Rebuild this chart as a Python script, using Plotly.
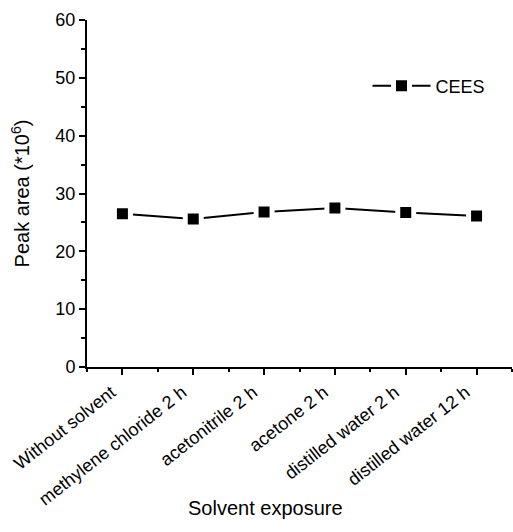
import plotly.graph_objects as go

# Peak area of CEES after each solvent exposure
categories = [
    "Without solvent",
    "methylene chloride 2 h",
    "acetonitrile 2 h",
    "acetone 2 h",
    "distilled water 2 h",
    "distilled water 12 h",
]
positions = [1, 2, 3, 4, 5, 6]
peak_area = [26.5, 25.6, 26.8, 27.5, 26.7, 26.1]
y_ticks = [0, 10, 20, 30, 40, 50, 60]

FONT = "Liberation Sans, Arial, sans-serif"

fig = go.Figure()
fig.add_trace(
    go.Scatter(
        x=positions,
        y=peak_area,
        mode="lines+markers",
        name="CEES",
        line=dict(color="black", width=2),
        # white outline leaves a small gap between the line and each square
        marker=dict(
            symbol="square",
            size=16,
            color="black",
            line=dict(color="white", width=5),
        ),
    )
)

axis_common = dict(
    showline=True,
    linecolor="black",
    linewidth=2,
    ticks="outside",
    ticklen=6,
    tickwidth=1.5,
    tickcolor="black",
    showgrid=False,
    zeroline=False,
    tickfont=dict(family=FONT, size=18, color="black"),
)

fig.update_xaxes(
    **axis_common,
    range=[0.5, 6.5],
    tickmode="array",
    tickvals=positions,
    ticktext=categories,
    tickangle=-38,
    ticklabelshift=-11,
    minor=dict(
        tickmode="linear", tick0=0.5, dtick=1, ticks="outside",
        ticklen=3, tickwidth=1.5, tickcolor="black",
    ),
)
fig.update_yaxes(
    **axis_common,
    range=[0, 60],
    tickmode="array",
    tickvals=y_ticks,
    minor=dict(
        tickmode="linear", tick0=0, dtick=5, ticks="outside",
        ticklen=4, tickwidth=1.5, tickcolor="black",
    ),
    title=dict(
        text="Peak area (*10<sup>6</sup>)",
        font=dict(family=FONT, size=20, color="black"),
        standoff=20,
    ),
)

fig.add_annotation(
    text="Solvent exposure",
    xref="paper", yref="paper",
    x=0.419, y=-0.405,
    xanchor="center", yanchor="middle",
    showarrow=False,
    font=dict(family=FONT, size=20, color="black"),
)

fig.update_layout(
    width=513,
    height=532,
    margin=dict(l=87, r=1, t=20, b=165),
    paper_bgcolor="white",
    plot_bgcolor="white",
    showlegend=True,
    legend=dict(
        x=0.66, y=0.81,
        xanchor="left", yanchor="middle",
        itemwidth=58,
        bgcolor="rgba(0,0,0,0)",
        font=dict(family=FONT, size=18, color="black"),
    ),
)

fig.write_html("out.html")
